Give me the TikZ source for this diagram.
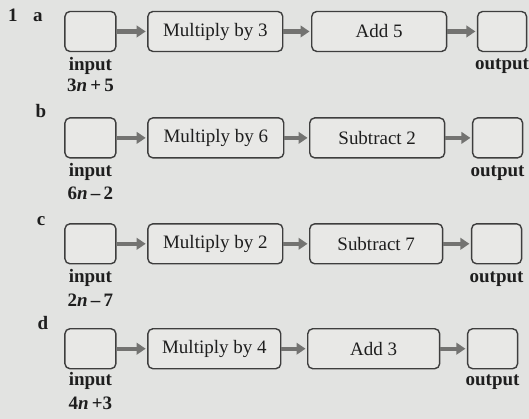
\documentclass[tikz,border=0pt]{standalone}
\usepackage{fontspec}
\setmainfont{Liberation Serif}
\usetikzlibrary{arrows.meta}
\definecolor{bg}{RGB}{226,227,225}
\definecolor{boxfill}{RGB}{232,232,230}
\definecolor{boxline}{RGB}{62,62,62}
\definecolor{ink}{RGB}{30,30,30}
\definecolor{arrowgray}{RGB}{115,115,113}
\begin{document}
\begin{tikzpicture}[x=1pt,y=-1pt,
  fbox/.style={draw=boxline, fill=boxfill, line width=1.4pt, rounded corners=5pt,
    inner sep=0pt, minimum height=40pt, text=ink, font=\fontsize{19}{22}\selectfont},
  flow/.style={draw=arrowgray, line width=4.3pt, shorten >=1.5pt, -{Triangle[length=9pt,width=11.5pt]}},
  lbl/.style={anchor=base, text=ink, inner sep=0pt, font=\fontsize{19}{22}\selectfont\bfseries},
  tag/.style={anchor=base, text=ink, inner sep=0pt, font=\fontsize{19}{22}\selectfont\bfseries}]
\path[fill=bg] (0,0) rectangle (529,419);

% row a
\node[tag] (one) at (13,22) {1};
\node[tag] (la) at (38,22) {a};
\node[fbox, minimum width=51pt] (ain) at (90.5,31.5) {};
\node[fbox, minimum width=135pt] (aop1) at (215.5,31.5) {Multiply by 3};
\node[fbox, minimum width=135pt] (aop2) at (379.5,31.5) {Add 5};
\node[fbox, minimum width=49pt] (aout) at (502.5,31.5) {};
\draw[flow] (ain) -- (aop1);
\draw[flow] (aop1) -- (aop2);
\draw[flow] (aop2) -- (aout);
\node[lbl] (ainl) at (90.5,71) {input};
\node[lbl] (aexp) at (90.5,92) {3\textit{n}\,+\,5};
\node[lbl] (aoutl) at (502.5,70) {output};

% row b
\node[tag] (lb) at (41,118) {b};
\node[fbox, minimum width=51pt] (bin) at (90.5,138) {};
\node[fbox, minimum width=136pt] (bop1) at (216,138) {Multiply by 6};
\node[fbox, minimum width=135pt] (bop2) at (377.5,138) {Subtract 2};
\node[fbox, minimum width=50pt] (bout) at (498,138) {};
\draw[flow] (bin) -- (bop1);
\draw[flow] (bop1) -- (bop2);
\draw[flow] (bop2) -- (bout);
\node[lbl] (binl) at (90.5,177) {input};
\node[lbl] (bexp) at (90.5,200) {6\textit{n}\,–\,2};
\node[lbl] (boutl) at (498,177) {output};

% row c
\node[tag] (lc) at (41,226) {c};
\node[fbox, minimum width=51pt] (cin) at (90.5,244) {};
\node[fbox, minimum width=135pt] (cop1) at (215.5,244) {Multiply by 2};
\node[fbox, minimum width=133pt] (cop2) at (376.5,244) {Subtract 7};
\node[fbox, minimum width=50pt] (cout) at (497,244) {};
\draw[flow] (cin) -- (cop1);
\draw[flow] (cop1) -- (cop2);
\draw[flow] (cop2) -- (cout);
\node[lbl] (cinl) at (90.5,283) {input};
\node[lbl] (cexp) at (90.5,307) {2\textit{n}\,–\,7};
\node[lbl] (coutl) at (497,283) {output};

% row d
\node[tag] (ld) at (43,330) {d};
\node[fbox, minimum width=51pt] (din) at (90.5,349) {};
\node[fbox, minimum width=133pt] (dop1) at (214.5,349) {Multiply by 4};
\node[fbox, minimum width=132pt] (dop2) at (374,349) {Add 3};
\node[fbox, minimum width=50pt] (dout) at (493,349) {};
\draw[flow] (din) -- (dop1);
\draw[flow] (dop1) -- (dop2);
\draw[flow] (dop2) -- (dout);
\node[lbl] (dinl) at (90.5,386) {input};
\node[lbl] (dexp) at (90.5,410) {4\textit{n}\,+3};
\node[lbl] (doutl) at (493,386) {output};
\end{tikzpicture}
\end{document}
